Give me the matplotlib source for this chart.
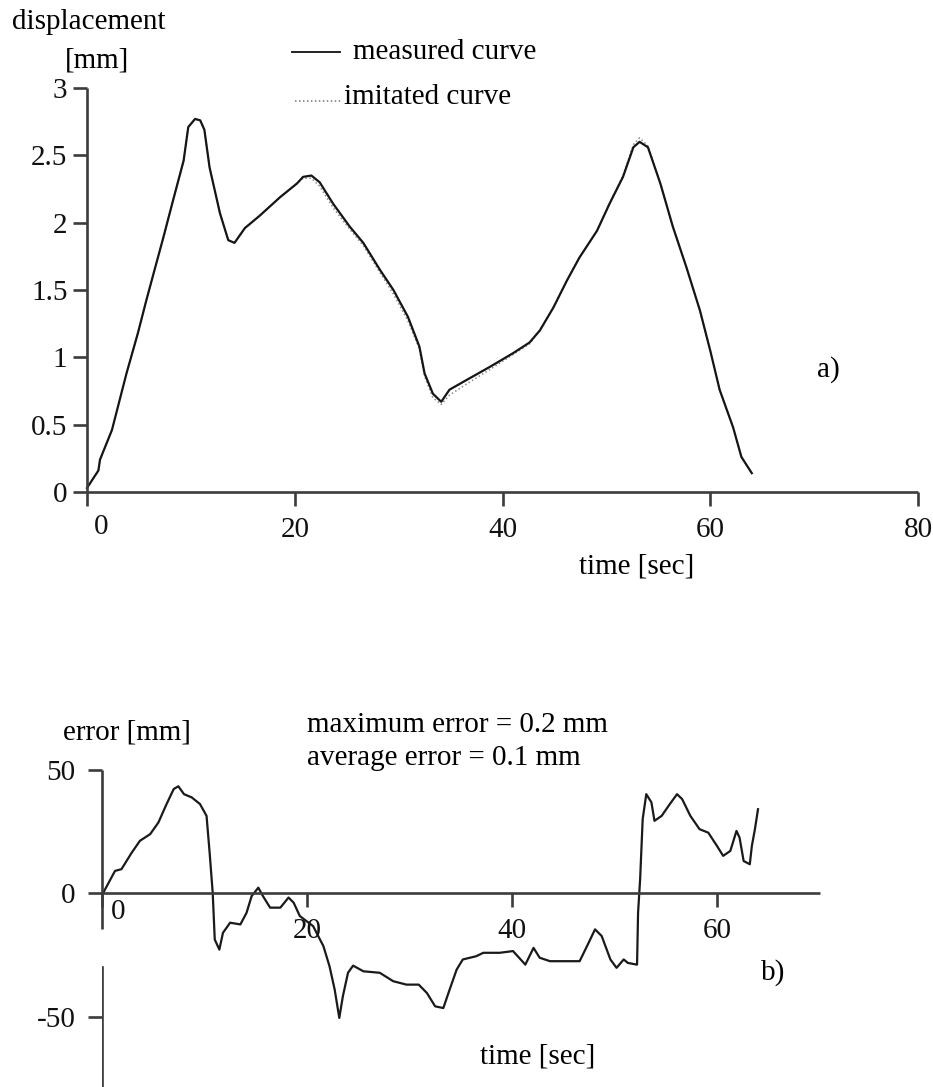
import matplotlib
matplotlib.use("Agg")
import matplotlib.pyplot as plt
from matplotlib.lines import Line2D

# ---------------- data ----------------
# (a) displacement [mm] vs time [sec]
t_disp = [0, 1.1, 1.25, 2.4, 2.9, 3.8, 4.9, 5.7, 6.4, 7.35, 8.3, 9.3, 9.75, 10.4, 10.9,
          11.3, 11.8, 12.8, 13.6, 14.2, 15.2, 16.6, 18.6, 20.2, 20.8, 21.6, 22.4, 23.7,
          25.3, 26.6, 28.2, 29.5, 30.9, 32.0, 32.5, 33.3, 34.1, 34.9, 36.5, 38.8, 41.0,
          42.6, 43.6, 44.9, 46.2, 47.4, 49.1, 50.3, 51.6, 52.6, 53.2, 54.0, 55.2, 56.4,
          57.7, 59.0, 60.0, 60.9, 62.2, 63.0, 64.0]
measured = [0.03, 0.16, 0.24, 0.46, 0.61, 0.88, 1.18, 1.42, 1.62, 1.89, 2.17, 2.46, 2.71,
            2.77, 2.76, 2.69, 2.41, 2.07, 1.87, 1.85, 1.96, 2.05, 2.19, 2.29, 2.34, 2.35,
            2.30, 2.14, 1.97, 1.85, 1.65, 1.50, 1.30, 1.08, 0.88, 0.73, 0.67, 0.76, 0.83,
            0.93, 1.03, 1.11, 1.20, 1.37, 1.57, 1.74, 1.94, 2.14, 2.34, 2.56, 2.60, 2.56,
            2.29, 1.97, 1.67, 1.35, 1.05, 0.76, 0.48, 0.26, 0.14]
imitated = [0.03, 0.16, 0.24, 0.46, 0.61, 0.88, 1.18, 1.42, 1.62, 1.89, 2.17, 2.46, 2.71,
            2.77, 2.76, 2.69, 2.41, 2.07, 1.87, 1.85, 1.96, 2.05, 2.19, 2.29, 2.33, 2.33,
            2.27, 2.11, 1.95, 1.83, 1.63, 1.47, 1.27, 1.06, 0.86, 0.70, 0.65, 0.72, 0.80,
            0.91, 1.02, 1.10, 1.20, 1.37, 1.57, 1.74, 1.94, 2.14, 2.35, 2.58, 2.63, 2.57,
            2.29, 1.97, 1.67, 1.35, 1.05, 0.76, 0.48, 0.26, 0.14]
disp_xticks = [0, 20, 40, 60, 80]
disp_yticks = [0, 0.5, 1, 1.5, 2, 2.5, 3]
disp_yticklabels = ["0", "0.5", "1", "1.5", "2", "2.5", "3"]

# (b) error vs time [sec]
t_err = [0, 0.13, 1.27, 1.9, 2.9, 3.7, 4.7, 5.5, 6.3, 7.0, 7.45, 8.0, 8.75, 9.56, 10.2,
         10.5, 10.8, 11.0, 11.45, 11.8, 12.5, 13.5, 14.1, 14.6, 15.25, 15.7, 16.4, 17.4,
         18.2, 18.7, 19.3, 20.6, 21.6, 22.2, 22.7, 23.15, 23.5, 24.0, 24.5, 25.5, 27.1,
         28.4, 29.7, 30.9, 31.7, 32.5, 33.3, 33.8, 34.6, 35.2, 36.5, 37.2, 38.8, 40.1,
         41.3, 42.1, 42.7, 43.7, 46.6, 47.4, 48.1, 48.75, 49.6, 50.2, 50.9, 51.3, 52.2,
         52.3, 52.5, 52.75, 53.1, 53.6, 53.9, 54.6, 55.4, 56.1, 56.6, 57.4, 58.3, 59.15,
         60.0, 60.6, 61.3, 61.9, 62.2, 62.6, 63.2, 63.4, 63.7, 64.0]
error = [0, 0.3, 9.1, 9.8, 16.5, 21.3, 24.0, 28.7, 36.2, 42.3, 43.4, 40.2, 38.9, 36.2,
         31.4, 16.5, 0.3, -18.7, -22.8, -16.0, -11.9, -12.6, -7.9, -1.1, 2.3, -1.1, -5.8,
         -5.8, -1.7, -3.8, -9.2, -13.3, -21.4, -29.6, -39.0, -50.5, -41.7, -32.2, -29.3,
         -31.6, -32.2, -35.6, -37.0, -37.0, -40.4, -45.8, -46.5, -40.4, -30.9, -26.8,
         -25.5, -24.1, -24.1, -23.4, -28.9, -22.1, -26.1, -27.5, -27.5, -20.7, -14.6,
         -17.3, -26.8, -30.2, -26.8, -28.2, -28.9, -7.8, 5.7, 30.1, 40.2, 36.9, 29.4,
         31.4, 36.2, 40.2, 38.2, 31.4, 26.0, 24.6, 19.2, 15.2, 17.2, 25.3, 22.6, 13.1,
         11.8, 19.2, 26.0, 34.1]
err_xticks = [0, 20, 40, 60]
err_yticks = [-50, 0, 50]
err_yticklabels = ["-50", "0", "50"]

# ---------------- style ----------------
W, H = 933, 1087
FONT = "Liberation Serif"
FS = 21
AX_COL = "#3c3c3c"
plt.rcParams["font.family"] = [FONT, "DejaVu Serif"]
plt.rcParams["font.size"] = FS

fig = plt.figure(figsize=(W / 100, H / 100), dpi=100)


def fx(px):
    return px / W


def fy(py):
    return 1 - py / H


def style_axes(ax):
    for s in ("top", "right"):
        ax.spines[s].set_visible(False)
    for s in ("left", "bottom"):
        ax.spines[s].set_color(AX_COL)
        ax.spines[s].set_linewidth(1.9)
        ax.spines[s].set_capstyle("butt")
    ax.tick_params(direction="out", length=10, width=1.9, color=AX_COL,
                   labelsize=FS, labelcolor="#111111")


# ---------------- (a) ----------------
ax1 = fig.add_axes([fx(87), fy(492), fx(918) - fx(87), fy(88) - fy(492)])
style_axes(ax1)
ax1.set_xlim(0, 80)
ax1.set_ylim(0, 3)
ax1.set_xticks(disp_xticks)
ax1.set_xticklabels([""] + [str(v) for v in disp_xticks[1:]])
ax1.set_yticks(disp_yticks)
ax1.set_yticklabels(disp_yticklabels)
ax1.tick_params(axis="x", pad=8)
ax1.tick_params(axis="y", pad=4)
ax1.annotate("0", xy=(0, 0), xycoords="data", xytext=(10, -25.5),
             textcoords="offset points", ha="center", va="center", fontsize=FS,
             color="#111111")
ax1.plot(t_disp, imitated, color="#8a8a8a", lw=1.1, ls=(0, (1, 1.6)), clip_on=False)
ax1.plot(t_disp, measured, color="#151515", lw=1.6, clip_on=False)

fig.text(fx(12), fy(22), "displacement", ha="left", va="center", fontsize=FS)
fig.text(fx(65), fy(60), "[mm]", ha="left", va="center", fontsize=FS)
fig.add_artist(Line2D([fx(292), fx(340)], [fy(52), fy(52)], color="#222222", lw=1.4))
fig.text(fx(353), fy(52), "measured curve", ha="left", va="center", fontsize=FS)
fig.add_artist(Line2D([fx(295), fx(342)], [fy(101), fy(101)], color="#777777", lw=1.1,
                      ls=(0, (1, 1.6))))
fig.text(fx(344), fy(97), "imitated curve", ha="left", va="center", fontsize=FS)
fig.text(fx(828), fy(370), "a)", ha="center", va="center", fontsize=FS)
fig.text(fx(637), fy(567), "time [sec]", ha="center", va="center", fontsize=FS)

# ---------------- (b) ----------------
Y_LO, Y_HI = -78.5, 50
GAP_TOP, GAP_BOT = -14.6, -29.7
ax2 = fig.add_axes([fx(102), 0, fx(819.5) - fx(102), fy(770)])
style_axes(ax2)
ax2.set_xlim(0, 70)
ax2.set_ylim(Y_LO, Y_HI)
ax2.spines["bottom"].set_position(("data", 0))
ax2.spines["left"].set_bounds(GAP_TOP, Y_HI)
ax2.axvline(0, ymin=0, ymax=(GAP_BOT - Y_LO) / (Y_HI - Y_LO), color=AX_COL, lw=1.9)
ax2.set_xticks(err_xticks)
ax2.set_xticklabels([""] + [str(v) for v in err_xticks[1:]])
ax2.set_yticks(err_yticks)
ax2.set_yticklabels(err_yticklabels)
ax2.tick_params(axis="x", pad=8)
ax2.tick_params(axis="y", pad=9)
ax2.annotate("0", xy=(0, 0), xycoords="data", xytext=(11.5, -13.7),
             textcoords="offset points", ha="center", va="center", fontsize=FS,
             color="#111111")
ax2.plot(t_err, error, color="#1a1a1a", lw=1.6, clip_on=False)

fig.text(fx(63), fy(733), "error [mm]", ha="left", va="center", fontsize=FS)
fig.text(fx(307), fy(725), "maximum error = 0.2 mm", ha="left", va="center", fontsize=FS)
fig.text(fx(307), fy(758), "average error = 0.1 mm", ha="left", va="center", fontsize=FS)
fig.text(fx(773), fy(973), "b)", ha="center", va="center", fontsize=FS)
fig.text(fx(538), fy(1056), "time [sec]", ha="center", va="center", fontsize=FS)

fig.savefig("out.png", dpi=100, facecolor="white")
